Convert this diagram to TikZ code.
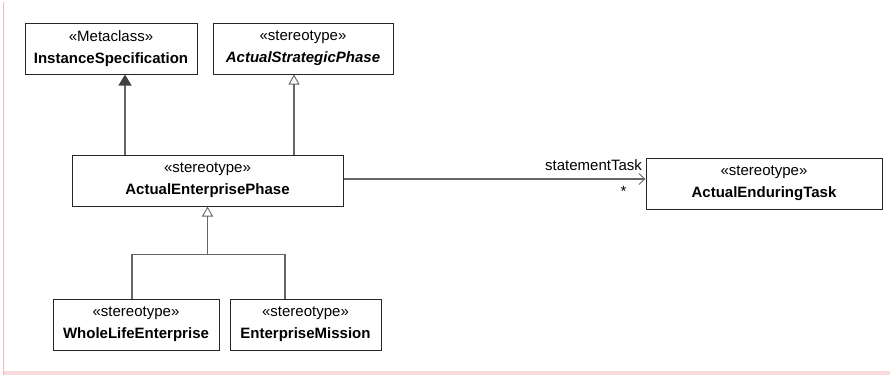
\documentclass[tikz,border=0pt]{standalone}
\usepackage{fontspec}
\setmainfont{Liberation Sans}
\usetikzlibrary{arrows.meta}
\definecolor{linegray}{HTML}{666666}
\definecolor{framepink}{HTML}{F2B8BF}
\definecolor{bandpink}{HTML}{F8DADD}

\begin{document}
\begin{tikzpicture}[x=1pt,y=-1pt,>=Latex,
    font=\fontsize{15}{22}\selectfont,
    umlclass/.style={draw=black!85,line width=1pt,fill=white,align=center,
        inner sep=0pt,minimum height=51pt},
    genopen/.style={draw=linegray,line width=1.2pt,
        -{Triangle[open,length=10pt,width=11pt,line width=0.9pt]}},
    genfilled/.style={draw=linegray,line width=1.2pt,
        -{Triangle[length=11pt,width=13pt,color=black!75]}},
    assoc/.style={draw=linegray,line width=1.2pt,
        -{Straight Barb[length=6pt,width=11pt,line width=0.9pt]}}]
    \useasboundingbox (0,0) rectangle (890,375);

    %======================================================
    % page frame
    %======================================================
    \fill[bandpink] (3,371) rectangle (890,375);
    \draw[framepink,line width=1pt] (3.5,2) -- (3.5,375);

    %======================================================
    % classes
    %======================================================
    \node[umlclass,minimum width=172pt] (instSpec) at (111,48.5)
        {«Metaclass»\\\textbf{InstanceSpecification}};
    \node[umlclass,minimum width=180pt] (stratPhase) at (303,48.5)
        {«stereotype»\\\textbf{\textit{ActualStrategicPhase}}};
    \node[umlclass,minimum width=271pt] (entPhase) at (207.5,180.5)
        {«stereotype»\\\textbf{ActualEnterprisePhase}};
    \node[umlclass,minimum width=236pt] (endTask) at (764,183.5)
        {«stereotype»\\\textbf{ActualEnduringTask}};
    \node[umlclass,minimum width=166pt] (wholeLife) at (136,324.5)
        {«stereotype»\\\textbf{WholeLifeEnterprise}};
    \node[umlclass,minimum width=151pt] (entMission) at (305.5,324.5)
        {«stereotype»\\\textbf{EnterpriseMission}};

    %======================================================
    % generalizations
    %======================================================
    \coordinate (g1) at ([xshift=-82.5pt]entPhase.north);
    \coordinate (g2) at ([xshift=86.5pt]entPhase.north);
    \draw[genfilled] (g1) -- (g1 |- instSpec.south);
    \draw[genopen] (g2) -- (g2 |- stratPhase.south);

    % children of ActualEnterprisePhase
    \coordinate (join) at ([yshift=-48pt]entPhase.south);
    \draw[genopen] (join) -- (entPhase.south);
    \draw[linegray,line width=1.2pt] ([xshift=-4pt]wholeLife.north) |- (join)
        -| ([xshift=-20.5pt]entMission.north);

    %======================================================
    % association
    %======================================================
    \coordinate (a1) at ([yshift=1.5pt]entPhase.east);
    \draw[assoc] (a1) -- (a1 -| endTask.west)
        node[pos=1,above left,inner sep=0pt,xshift=-3pt,yshift=8pt] {statementTask}
        node[pos=1,anchor=base,xshift=-22pt,yshift=-17.5pt] {*};
\end{tikzpicture}
\end{document}
